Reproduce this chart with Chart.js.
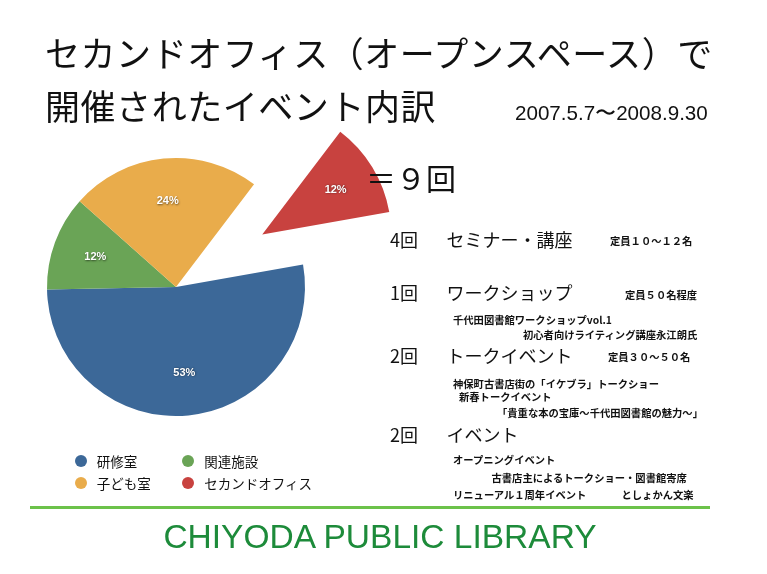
<!DOCTYPE html>
<html lang="ja">
<head>
<meta charset="utf-8">
<script src="https://cdn.jsdelivr.net/npm/chart.js@4/dist/chart.umd.min.js"></script>
<style>
  html, body { margin:0; padding:0; background:#fff; }
  body { width:767px; height:574px; position:relative; overflow:hidden;
         font-family:"Noto Sans CJK JP","Noto Sans",sans-serif; color:#111; }
  #c { position:absolute; left:0; top:0; }
  .t { position:absolute; white-space:nowrap; line-height:1; transform:translateY(-50%); z-index:2; }
  .big { font-size:35px; font-weight:400; letter-spacing:0.55px; }
  .mid { font-size:18px; }
  .sm { font-size:10.3px; font-weight:700; }
  #legend { position:absolute; left:74.7px; top:452px; display:grid;
            grid-template-columns:107.6px 140px; row-gap:5px; z-index:2; }
  .li { display:flex; align-items:center; font-size:13.5px; height:17px; }
  .dot { width:12px; height:12px; border-radius:50%; margin-right:10px; flex:none; }
  #rule { position:absolute; left:30px; top:506px; width:680px; height:3px; background:#6cc24a; }
  #lib { position:absolute; left:0; width:760px; text-align:center; top:537px; transform:translateY(-50%);
         font-family:"Liberation Sans",Arial,sans-serif; font-size:33.5px; color:#1d8b3a; line-height:1; }
</style>
</head>
<body>
<canvas id="c" width="767" height="574"></canvas>

<div class="t big" style="left:45px; top:51px;">セカンドオフィス（オープンスペース）で</div>
<div class="t big" style="left:45px; top:104px;">開催されたイベント内訳</div>
<div class="t" style="left:515px; top:112.5px; font-family:'Liberation Sans',Arial,sans-serif; font-size:20.6px;">2007.5.7〜2008.9.30</div>
<div class="t" style="left:366px; top:177px; font-size:30px;">＝９回</div>

<div id="list"></div>
<div id="legend"></div>
<div id="rule"></div>
<div id="lib">CHIYODA PUBLIC LIBRARY</div>

<script>
// ---- data ----
const categories = ["研修室", "関連施設", "子ども室", "セカンドオフィス"];
const values = [53, 12, 24, 12];
const colors = ["#3c6898", "#6aa456", "#e9ac4b", "#c8423f"];

const eventCounts = ["4回", "1回", "2回", "2回"];
const eventTypes = ["セミナー・講座", "ワークショップ", "トークイベント", "イベント"];
const capacities = ["定員１０～１２名", "定員５０名程度", "定員３０～５０名", ""];
const eventDetails = [
  [],
  ["千代田図書館ワークショップvol.1", "初心者向けライティング講座永江朗氏"],
  ["神保町古書店街の「イケブラ」トークショー", "新春トークイベント", "「貴重な本の宝庫〜千代田図書館の魅力〜」"],
  ["オープニングイベント", "古書店主によるトークショー・図書館寄席", "リニューアル１周年イベント", "としょかん文楽"]
];

// ---- styling / layout (positions only) ----
const explode = [0, 0, 0, 101];   // pixel distance each slice is pulled out
const rowY = [238.5, 292, 355, 433.5];
const capPos = [[610, 240.5], [625, 295], [608, 357], null];
const detailPos = [
  [],
  [[453, 320], [523, 335]],
  [[453, 383.5], [459, 397], [497, 413]],
  [[453, 459.5], [491.5, 477.5], [453, 494.5], [621.5, 494.5]]
];

const list = document.getElementById('list');
function addText(txt, x, y, cls) {
  const d = document.createElement('div');
  d.className = 't ' + cls;
  d.style.left = x + 'px';
  d.style.top = y + 'px';
  d.textContent = txt;
  list.appendChild(d);
}
eventTypes.forEach((name, i) => {
  addText(eventCounts[i], 390, rowY[i], 'mid');
  addText(name, 446.5, rowY[i], 'mid');
  if (capacities[i]) addText(capacities[i], capPos[i][0], capPos[i][1], 'sm');
  eventDetails[i].forEach((s, j) => addText(s, detailPos[i][j][0], detailPos[i][j][1], 'sm'));
});

// legend
const legend = document.getElementById('legend');
categories.forEach((c, i) => {
  const li = document.createElement('div');
  li.className = 'li';
  const dot = document.createElement('span');
  dot.className = 'dot';
  dot.style.background = colors[i];
  const tx = document.createElement('span');
  tx.textContent = c;
  li.appendChild(dot); li.appendChild(tx);
  legend.appendChild(li);
});

// pull slices out along their mid-angle without changing radius or angle
const explodeSlices = {
  id: 'explodeSlices',
  beforeDatasetsDraw(chart) {
    const meta = chart.getDatasetMeta(0);
    const a = chart.chartArea;
    const cx = (a.left + a.right) / 2, cy = (a.top + a.bottom) / 2;
    meta.data.forEach((arc, i) => {
      const off = explode[i] || 0;
      const mid = (arc.startAngle + arc.endAngle) / 2;
      arc.x = cx + Math.cos(mid) * off;
      arc.y = cy + Math.sin(mid) * off;
    });
  }
};

// slice labels plugin
const sliceLabels = {
  id: 'sliceLabels',
  afterDatasetsDraw(chart) {
    const ctx = chart.ctx;
    const meta = chart.getDatasetMeta(0);
    const ds = chart.data.datasets[0];
    ctx.save();
    ctx.font = 'bold 11px "Liberation Sans", Arial, sans-serif';
    ctx.fillStyle = '#fff';
    ctx.textAlign = 'center';
    ctx.textBaseline = 'middle';
    ctx.shadowColor = 'rgba(0,0,0,0.55)';
    ctx.shadowBlur = 2;
    ctx.shadowOffsetX = 0.5;
    ctx.shadowOffsetY = 0.5;
    meta.data.forEach((arc, i) => {
      const mid = (arc.startAngle + arc.endAngle) / 2;
      const r = arc.outerRadius * 2 / 3;
      ctx.fillText(ds.data[i] + '%', arc.x + Math.cos(mid) * r, arc.y + Math.sin(mid) * r);
    });
    ctx.restore();
  }
};

new Chart(document.getElementById('c'), {
  type: 'pie',
  data: {
    labels: categories,
    datasets: [{
      data: values,
      backgroundColor: colors,
      borderWidth: 0,
      hoverOffset: 0,
      clip: false
    }]
  },
  options: {
    responsive: false,
    animation: false,
    devicePixelRatio: 1,
    events: [],
    rotation: 80,
    radius: 129,
    layout: { padding: { left: 0, right: 415, top: 0, bottom: 0 } },
    plugins: { legend: { display: false }, tooltip: { enabled: false } }
  },
  plugins: [explodeSlices, sliceLabels]
});
</script>
</body>
</html>
